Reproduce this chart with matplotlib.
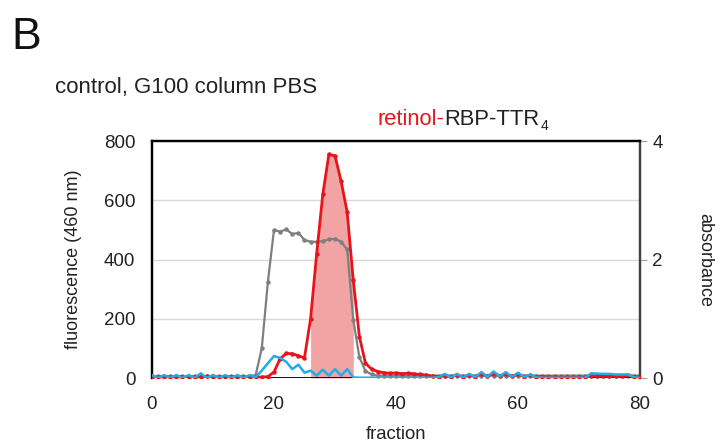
import numpy as np
import matplotlib
matplotlib.use("Agg")
import matplotlib.pyplot as plt

plt.rcParams['font.family'] = ['Liberation Sans', 'DejaVu Sans']

fraction = np.arange(0, 81)

# retinol fluorescence at 460 nm (left axis)
fluor_red = [3, 2, 4, 2, 5, 3, 2, 4, 3, 6, 3, 2, 5, 3, 4, 2, 3, 4, 3,
             5, 20, 65, 83, 82, 75, 68, 200, 420, 620, 755, 750, 665, 560, 330,
             140, 50, 30, 22, 18, 16, 17, 15, 16, 14, 12, 10, 6, 5, 8, 5,
             10, 4, 9, 5, 14, 6, 15, 8, 14, 6, 12, 5, 9, 4, 5, 3, 4, 2, 3,
             2, 3, 2, 8, 7, 8, 6, 7, 6, 9, 5, 3]

# control fluorescence trace (left axis)
fluor_cyan = [10, 0, 10, 0, 10, 0, 10, 0, 16, 0, 10, 0, 10, 0, 10, 0, 10,
              3, 25, 50, 74, 68, 55, 30, 45, 18, 25, 8, 28, 8, 30, 8, 30, 2,
              1, 1, 1, 1, 1, 1, 1, 1, 1, 1, 1, 1, 1,
              3, 14, 2, 14, 2, 14, 3, 20, 4, 22, 5, 20, 4, 18, 3, 12, 2,
              1, 1, 1, 1, 1, 1, 1, 1,
              16, 15, 14, 14, 12, 12, 12, 3, 0]

# absorbance (right axis)
absorb_gray = [0.03] * 17 + [0.05, 0.5, 1.62, 2.5, 2.47, 2.51, 2.43, 2.45,
                             2.33, 2.3, 2.3, 2.31, 2.34, 2.35, 2.3, 2.17,
                             0.98, 0.35, 0.12, 0.06] + [0.04] * 44

# baseline trace (left axis), only recorded over parts of the run
baseline_black = [np.nan] * 17 + [0] * 17 + [np.nan] * 38 + [0] * 8 + [np.nan]

# pooled fractions
pool_start, pool_end = 26, 33

fluor_red = np.array(fluor_red, dtype=float)
fluor_cyan = np.array(fluor_cyan, dtype=float)
absorb_gray = np.array(absorb_gray, dtype=float)
baseline_black = np.array(baseline_black, dtype=float)

red = '#e8141b'
cyan = '#1eaee8'
gray = '#7f7f7f'

fig = plt.figure(figsize=(7.23, 4.44), dpi=100)
pos = [0.2102, 0.1486, 0.675, 0.5338]
ax = fig.add_axes(pos)          # base: grid, pooled-fraction shading, axes
ax2 = ax.twinx()                # absorbance
ax3 = fig.add_axes(pos, sharex=ax, sharey=ax)   # fluorescence traces on top
ax3.axis('off')
ax3.patch.set_visible(False)

pool = (fraction >= pool_start) & (fraction <= pool_end)
ax.fill_between(fraction, 0, fluor_red, where=pool, color='#f2a3a4', lw=0, zorder=1)
for y in [200, 400, 600]:
    ax.axhline(y, color='#d9d9d9', lw=1, zorder=0)

ax2.plot(fraction, absorb_gray, color=gray, lw=1.6, marker='o', ms=2.2)
ax2.set_ylim(0, 4)
ax2.set_yticks([0, 2, 4])

ax3.plot(fraction, baseline_black, color='black', lw=2, zorder=2)
ax3.plot(fraction, fluor_red, color=red, lw=2, marker='o', ms=2.2, zorder=4)
ax3.plot(fraction, fluor_cyan, color=cyan, lw=1.8, zorder=5)

ax.set_xlim(0, 80)
ax.set_ylim(0, 800)
ax.set_xticks([0, 20, 40, 60, 80])
ax.set_yticks([0, 200, 400, 600, 800])

for a in (ax, ax2):
    a.spines['bottom'].set_visible(False)
    a.spines['top'].set_color('black')
    a.spines['top'].set_linewidth(1.6)
    a.spines['left'].set_color('black')
    a.spines['left'].set_linewidth(1.6)
    a.spines['right'].set_color('#404040')
    a.spines['right'].set_linewidth(1.6)

fs = 13.5
ax.tick_params(axis='x', length=0, labelsize=fs, pad=13, labelcolor='#222222')
ax.tick_params(axis='y', length=0, labelsize=fs, pad=12, labelcolor='#222222')
ax2.tick_params(axis='y', length=5, color='#a0a0a0', labelsize=fs, pad=4,
                labelcolor='#222222')

ax.set_xlabel('fraction', fontsize=13.3, labelpad=9, color='#222222')
ax.set_ylabel('fluorescence (460 nm)', fontsize=13, labelpad=16, color='#222222')
ax2.set_ylabel('absorbance', fontsize=13, rotation=-90, labelpad=36, color='#222222')

fig.text(0.016, 0.915, 'B', fontsize=32, va='center', ha='left', color='#111111')
fig.text(0.076, 0.804, 'control, G100 column PBS', fontsize=16, va='center',
         ha='left', color='#222222')
t1 = fig.text(0.522, 0.73, 'retinol-', fontsize=15.8, color=red, va='center', ha='left')
fig.canvas.draw()
bb = t1.get_window_extent()
x1 = bb.x1 / fig.bbox.width
t2 = fig.text(x1, 0.73, 'RBP-TTR', fontsize=15.8, color='#222222', va='center', ha='left')
fig.canvas.draw()
bb2 = t2.get_window_extent()
fig.text(bb2.x1 / fig.bbox.width + 0.001, bb2.y0 / fig.bbox.height - 0.006, '4',
         fontsize=10, color='#222222', va='bottom', ha='left')

fig.savefig('out.png', dpi=100)
